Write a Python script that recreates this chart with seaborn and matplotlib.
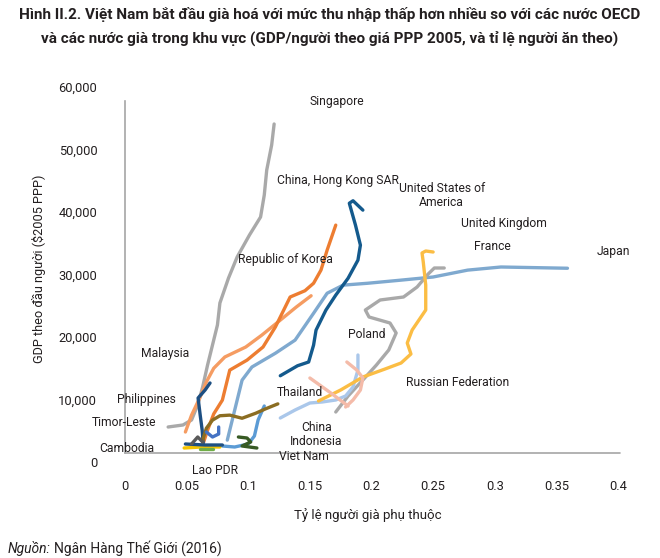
import matplotlib
matplotlib.use('Agg')
import matplotlib.pyplot as plt
import seaborn as sns

# Old-age dependency ratio (x) and GDP per head in $2005 PPP (y)
singapore_x = [0.035, 0.047, 0.054, 0.059, 0.063, 0.067, 0.071, 0.075, 0.077, 0.084, 0.091, 0.101, 0.110, 0.113, 0.115, 0.119, 0.121]
singapore_y = [5600, 5920, 6720, 9120, 12000, 15520, 18720, 21920, 25440, 29440, 32800, 36320, 39200, 42720, 46720, 50720, 54080]

korea_x = [0.063, 0.067, 0.072, 0.079, 0.082, 0.085, 0.099, 0.112, 0.122, 0.126, 0.134, 0.146, 0.153, 0.159, 0.164, 0.171]
korea_y = [2700, 5100, 7700, 9900, 12300, 14700, 16300, 18400, 21600, 23200, 26400, 27400, 28600, 30700, 33900, 37900]

lightorange_x = [0.049, 0.054, 0.061, 0.066, 0.072, 0.081, 0.098, 0.111, 0.126, 0.139, 0.151]
lightorange_y = [4800, 7500, 10400, 12800, 15000, 16800, 18400, 20300, 22700, 24800, 26600]

hongkong_x = [0.126, 0.140, 0.149, 0.153, 0.155, 0.163, 0.171, 0.181, 0.189, 0.191, 0.187, 0.182, 0.185, 0.193]
hongkong_y = [13800, 15400, 16000, 18700, 21100, 24300, 26700, 29400, 32300, 34700, 37900, 41400, 41800, 40300]

navy_left_x = [0.0634, 0.0626, 0.061, 0.0593, 0.065, 0.069]
navy_left_y = [3040, 5120, 7520, 10240, 11520, 12640]

japan_x = [0.083, 0.087, 0.091, 0.095, 0.103, 0.122, 0.138, 0.153, 0.164, 0.177, 0.197, 0.224, 0.250, 0.278, 0.305, 0.359]
japan_y = [3500, 6700, 9900, 13100, 15200, 17400, 19500, 23800, 27000, 28300, 28600, 29100, 29600, 30700, 31200, 31000]

midblue_x = [0.079, 0.089, 0.100, 0.105, 0.108, 0.113]
midblue_y = [2560, 2400, 2880, 4160, 6720, 8960]

china_x = [0.126, 0.138, 0.150, 0.160, 0.171, 0.179, 0.185, 0.189, 0.189]
china_y = [7040, 8320, 9440, 9600, 9920, 10560, 12000, 14720, 17120]

pink_a_x = [0.150, 0.167, 0.181]
pink_a_y = [13440, 11040, 8960]
pink_b_x = [0.180, 0.188, 0.193, 0.191, 0.185, 0.179]
pink_b_y = [16000, 14720, 13440, 11520, 9920, 8800]

russia_x = [0.157, 0.175, 0.193, 0.211, 0.224, 0.232, 0.229, 0.233, 0.244, 0.244, 0.242, 0.241, 0.244, 0.250]
russia_y = [9760, 11520, 13600, 14880, 15840, 17280, 19040, 21120, 24320, 28320, 32000, 33440, 33760, 33600]

poland_x = [0.171, 0.181, 0.193, 0.204, 0.214, 0.220, 0.215, 0.198, 0.195, 0.207, 0.226, 0.237, 0.246, 0.251, 0.259]
poland_y = [8000, 10560, 13120, 15520, 17920, 20640, 22240, 23200, 24320, 25920, 26400, 28000, 30080, 31040, 31040]

olive_x = [0.063, 0.066, 0.071, 0.077, 0.085, 0.095, 0.106, 0.114, 0.124]
olive_y = [3500, 5400, 6700, 7400, 7500, 7000, 7800, 8500, 9300]

green_x = [0.092, 0.099, 0.102, 0.095, 0.107]
green_y = [4000, 3840, 3200, 2560, 2240]

bluesq_x = [0.066, 0.071, 0.076, 0.076]
bluesq_y = [4800, 4000, 4480, 5600]

darkgray_x = [0.054, 0.059, 0.063]
darkgray_y = [2880, 4000, 3200]

navy_bottom_x = [0.049, 0.065, 0.079]
navy_bottom_y = [2880, 2720, 2720]
yellow_bottom_x = [0.048, 0.062, 0.077]
yellow_bottom_y = [2240, 2400, 2400]
green_bottom_x = [0.061, 0.071]
green_bottom_y = [2080, 2080]

# Country labels: text, x, y
label_text = ['Singapore', 'China, Hong Kong SAR', 'United States of\nAmerica', 'United Kingdom',
              'France', 'Japan', 'Republic of Korea', 'Poland', 'Malaysia', 'Russian Federation',
              'Thailand', 'Philippines', 'Timor-Leste', 'China\nIndonesia', 'Cambodia',
              'Viet Nam', 'Lao PDR']
label_x = [0.1715, 0.1732, 0.2569, 0.3073, 0.2984, 0.3959, 0.1301, 0.1959, 0.0325, 0.2699,
           0.1423, 0.0171, -0.0008, 0.1553, 0.0016, 0.1455, 0.0732]
label_y = [57600, 45100, 42640, 38080, 34400, 33600, 32320, 20480, 17280, 12640,
           11040, 10080, 6400, 4400, 2240, 800, -1280]

x_ticks = [0, 0.05, 0.1, 0.15, 0.2, 0.25, 0.3, 0.35, 0.4]
x_tick_labels = ['0', '0.05', '0.1', '0.15', '0.2', '0.25', '0.3', '0.35', '0.4']
y_ticks = [0, 10000, 20000, 30000, 40000, 50000, 60000]

series = [
    (japan_x, japan_y, '#7fa9cf'),
    (poland_x, poland_y, '#a9a9a9'),
    (singapore_x, singapore_y, '#a9a9a9'),
    (lightorange_x, lightorange_y, '#f59c62'),
    (korea_x, korea_y, '#ed7d31'),
    (china_x, china_y, '#aac7ea'),
    (russia_x, russia_y, '#fbbd44'),
    (pink_a_x, pink_a_y, '#f4bba9'),
    (pink_b_x, pink_b_y, '#f4bba9'),
    (hongkong_x, hongkong_y, '#145a8d'),
    (navy_left_x, navy_left_y, '#1d4f82'),
    (midblue_x, midblue_y, '#5b9bd5'),
    (olive_x, olive_y, '#8b6d22'),
    (green_x, green_y, '#375a24'),
    (bluesq_x, bluesq_y, '#4472c4'),
    (yellow_bottom_x, yellow_bottom_y, '#f5c400'),
    (navy_bottom_x, navy_bottom_y, '#1d4f82'),
    (green_bottom_x, green_bottom_y, '#70ad47'),
    (darkgray_x, darkgray_y, '#5a5a5a'),
]

sns.set_theme(style='white')
plt.rcParams['font.family'] = ['Roboto', 'DejaVu Sans']
text_col = '#231f20'
axis_col = '#a6a6a6'

fig = plt.figure(figsize=(6.6, 5.58), dpi=100)
ax = fig.add_axes([125 / 660, 1 - 462 / 558, 493 / 660, 375 / 558])

for xs, ys, col in series:
    sns.lineplot(x=xs, y=ys, sort=False, estimator=None, color=col, lw=2.4, ax=ax,
                 solid_capstyle='round', solid_joinstyle='round')

for t, x, y in zip(label_text, label_x, label_y):
    ax.text(x, y, t, ha='center', va='center', fontsize=8.7, color=text_col,
            linespacing=1.05, clip_on=False)

ax.set_xlim(0, 0.4)
ax.set_ylim(0, 60000)
ax.set_xticks(x_ticks)
ax.set_xticklabels(x_tick_labels)
ax.set_yticks(y_ticks)
ax.set_yticklabels([f'{v:,}' for v in y_ticks])
ax.tick_params(axis='both', length=0, labelsize=9.3, labelcolor=text_col)
ax.tick_params(axis='y', pad=20)
ax.tick_params(axis='x', pad=13)

sns.despine(ax=ax, top=True, right=True, bottom=True)
ax.spines['left'].set_color(axis_col)
ax.spines['left'].set_linewidth(1.2)
ax.spines['left'].set_bounds(1500, 57800)
ax.axhline(1500, xmin=0, xmax=1.005, color=axis_col, lw=1.2, clip_on=False, zorder=0)

ax.set_xlabel('Tỷ lệ người già phụ thuộc', fontsize=9.5, color=text_col)
ax.xaxis.set_label_coords(0.493, -0.123)
ax.set_ylabel('GDP theo đầu người ($2005 PPP)', fontsize=9.2, color=text_col)
ax.yaxis.set_label_coords(-0.160, 0.515)

fig.text(0.5, 1 - 14 / 558, 'Hình II.2. Việt Nam bắt đầu già hoá với mức thu nhập thấp hơn nhiều so với các nước OECD',
         ha='center', va='center', fontsize=11, fontweight='bold', color=text_col)
fig.text(0.5, 1 - 38 / 558, 'và các nước già trong khu vực (GDP/người theo giá PPP 2005, và tỉ lệ người ăn theo)',
         ha='center', va='center', fontsize=11, fontweight='bold', color=text_col)

src = fig.text(8 / 660, 1 - 548 / 558, 'Nguồn:', ha='left', va='center', fontsize=10,
               style='italic', color=text_col)
fig.canvas.draw()
bb = src.get_window_extent()
fig.text((bb.x1 + 3) / 660, 1 - 548 / 558, 'Ngân Hàng Thế Giới (2016)', ha='left', va='center',
         fontsize=10, color=text_col)

fig.savefig('out.png', dpi=100)
